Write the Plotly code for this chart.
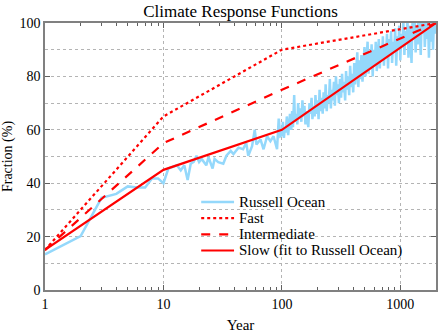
import plotly.graph_objects as go

# ---- data ----
model_years = [1, 10, 100, 2000]
fast = [15, 65, 90, 100]
intermediate = [15, 55, 75, 100]
slow = [15, 45, 60, 100]

ocean_years = [1, 2, 3, 4, 5, 6, 7, 8, 9, 10, 11, 12, 13, 14, 15, 16, 17, 18, 19, 20,
               21, 23, 24, 26, 27, 29, 32, 34, 37, 39, 43, 47, 50, 52, 56, 59, 61, 66,
               70, 75, 80, 85, 91, 94, 97,
               100, 102, 104, 106, 108, 110, 113, 115, 117, 120,
               122, 124, 127, 129, 132, 135, 137, 140, 143, 146,
               149, 152, 155, 158, 161, 164, 167, 171, 174, 178,
               181, 185, 189, 192, 196, 200, 204, 208, 212, 216,
               221, 225, 230, 234, 239, 244, 249, 254, 259, 264,
               269, 275, 280, 286, 292, 297, 303, 309, 316, 322,
               328, 335, 342, 348, 355, 362, 370, 377, 385, 392,
               400, 408, 416, 425, 433, 442, 451, 460, 469, 479,
               488, 498, 508, 518, 529, 539, 550, 561, 572, 584,
               596, 608, 620, 632, 645, 658, 671, 685, 698, 712,
               727, 741, 756, 771, 787, 803, 819, 835, 852, 869,
               887, 904, 923, 941, 960, 979, 999, 1019, 1039, 1060,
               1082, 1103, 1126, 1148, 1171, 1195, 1219, 1243, 1268, 1294,
               1320, 1346, 1373, 1401, 1429, 1457, 1487, 1516, 1547, 1578,
               1609, 1642, 1675, 1708, 1743, 1778, 1813, 1850, 1887, 1925,
               1963, 2000]
ocean = [13.3, 20.2, 34.5, 36, 38.8, 38.4, 38.4, 41.8, 41.8, 40, 45.5, 46, 46.7, 44.8,
         46.7, 41.2, 47.3, 48, 50.3, 47.9,
         49.1, 46.7, 49.7, 45.5, 49.1, 47.9, 47.3, 50.3, 52.1, 50.9, 53.3, 52.7, 55.1,
         50.3, 53.9, 60, 54.5, 56.4,
         52.7, 57.6, 55.7, 57.6, 52.7, 64.2, 57.6,
         58, 63, 57, 61, 59, 65, 58, 62, 66, 60,
         67, 61, 73, 63, 66, 62, 70, 64, 68, 63,
         71, 65, 69, 62, 67, 64, 61, 70, 66, 72,
         64, 69, 65, 73, 66, 71, 64, 75, 67, 72,
         66, 74, 68, 77, 67, 73, 70, 79, 68, 75,
         71, 78, 69, 80, 73, 77, 70, 79, 72, 81,
         74, 78, 71, 82, 75, 80, 73, 84, 76, 81,
         74, 85, 77, 83, 89, 76, 86, 79, 88, 78,
         84, 91, 80, 87, 93, 81, 89, 83, 92, 80,
         90, 84, 93, 82, 88, 94, 83, 91, 86, 95,
         84, 92, 87, 96, 83, 94, 88, 97, 85, 93,
         89, 98, 84, 95, 90, 99, 86, 96, 91, 101,
         88, 97, 92, 102, 87, 99, 93, 85, 101, 94,
         104, 89, 98, 92, 107, 95, 88, 103, 96, 105,
         91, 100, 94, 104, 87, 99, 93, 105, 90, 102,
         96, 100]

year_ticks = [1, 10, 100, 1000]
year_tick_labels = ["1", "10", "100", "1000"]
frac_ticks = [0, 20, 40, 60, 80, 100]

legend_names = ["Russell Ocean", "Fast", "Intermediate", "Slow (fit to Russell Ocean)"]

RED = "#ff0000"
BLUE = "#94d8fb"
FONT = "Liberation Serif"

styles = [dict(color=BLUE, width=2.5),
          dict(color=RED, width=2.2, dash="dot"),
          dict(color=RED, width=2.2, dash="dash"),
          dict(color=RED, width=2.2)]

fig = go.Figure()
series = [(ocean_years, ocean), (model_years, fast), (model_years, intermediate), (model_years, slow)]
for (xs, ys), name, st in zip(series, legend_names, styles):
    fig.add_trace(go.Scatter(x=xs, y=ys, mode="lines", name=name, line=st, showlegend=False))

# custom legend (layout only)
leg_rows = [0.3298, 0.2691, 0.2084, 0.1480]
shapes = [dict(type="rect", xref="paper", yref="paper", x0=0.389, x1=0.93, y0=0.115, y1=0.368,
               fillcolor="white", line=dict(width=0), layer="between")]
annotations = []
for name, st, yy in zip(legend_names, styles, leg_rows):
    shapes.append(dict(type="line", xref="paper", yref="paper", x0=0.3995, x1=0.4835,
                       y0=yy, y1=yy, line=st, layer="above"))
    annotations.append(dict(text=name, xref="paper", yref="paper", x=0.492, y=yy,
                            xanchor="left", yanchor="middle", showarrow=False,
                            font=dict(family=FONT, size=15, color="black")))

axis_common = dict(
    showline=True, linecolor="#808080", linewidth=1.5, mirror="ticks",
    ticks="inside", tickcolor="#606060", ticklen=5, tickwidth=1,
    showgrid=True, gridcolor="#b4b4b4", griddash="dot", gridwidth=1,
    zeroline=False, tickfont=dict(family=FONT, size=14, color="black"),
)

fig.update_layout(
    width=439, height=333,
    margin=dict(l=45, r=1, t=23, b=35),
    paper_bgcolor="white", plot_bgcolor="white",
    font=dict(family=FONT, size=14, color="black"),
    title=dict(text="Climate Response Functions", x=0.5, xref="paper", xanchor="center",
               y=0.968, yanchor="middle", font=dict(family=FONT, size=17)),
    xaxis=dict(type="log", range=[0, 3.30103], tickvals=year_ticks, ticktext=year_tick_labels,
               title=dict(text="Year", standoff=10, font=dict(family=FONT, size=15)),
               minor=dict(ticks="inside", ticklen=3, tickcolor="#606060", dtick="D1", showgrid=False),
               **axis_common),
    yaxis=dict(range=[0, 100], tickvals=frac_ticks,
               title=dict(text="Fraction (%)", standoff=5, font=dict(family=FONT, size=14)),
               minor=dict(dtick=10, showgrid=True, gridcolor="#b4b4b4", griddash="dot", ticks=""),
               **axis_common),
    showlegend=False,
    shapes=shapes,
    annotations=annotations,
)

fig.write_html("out.html")
